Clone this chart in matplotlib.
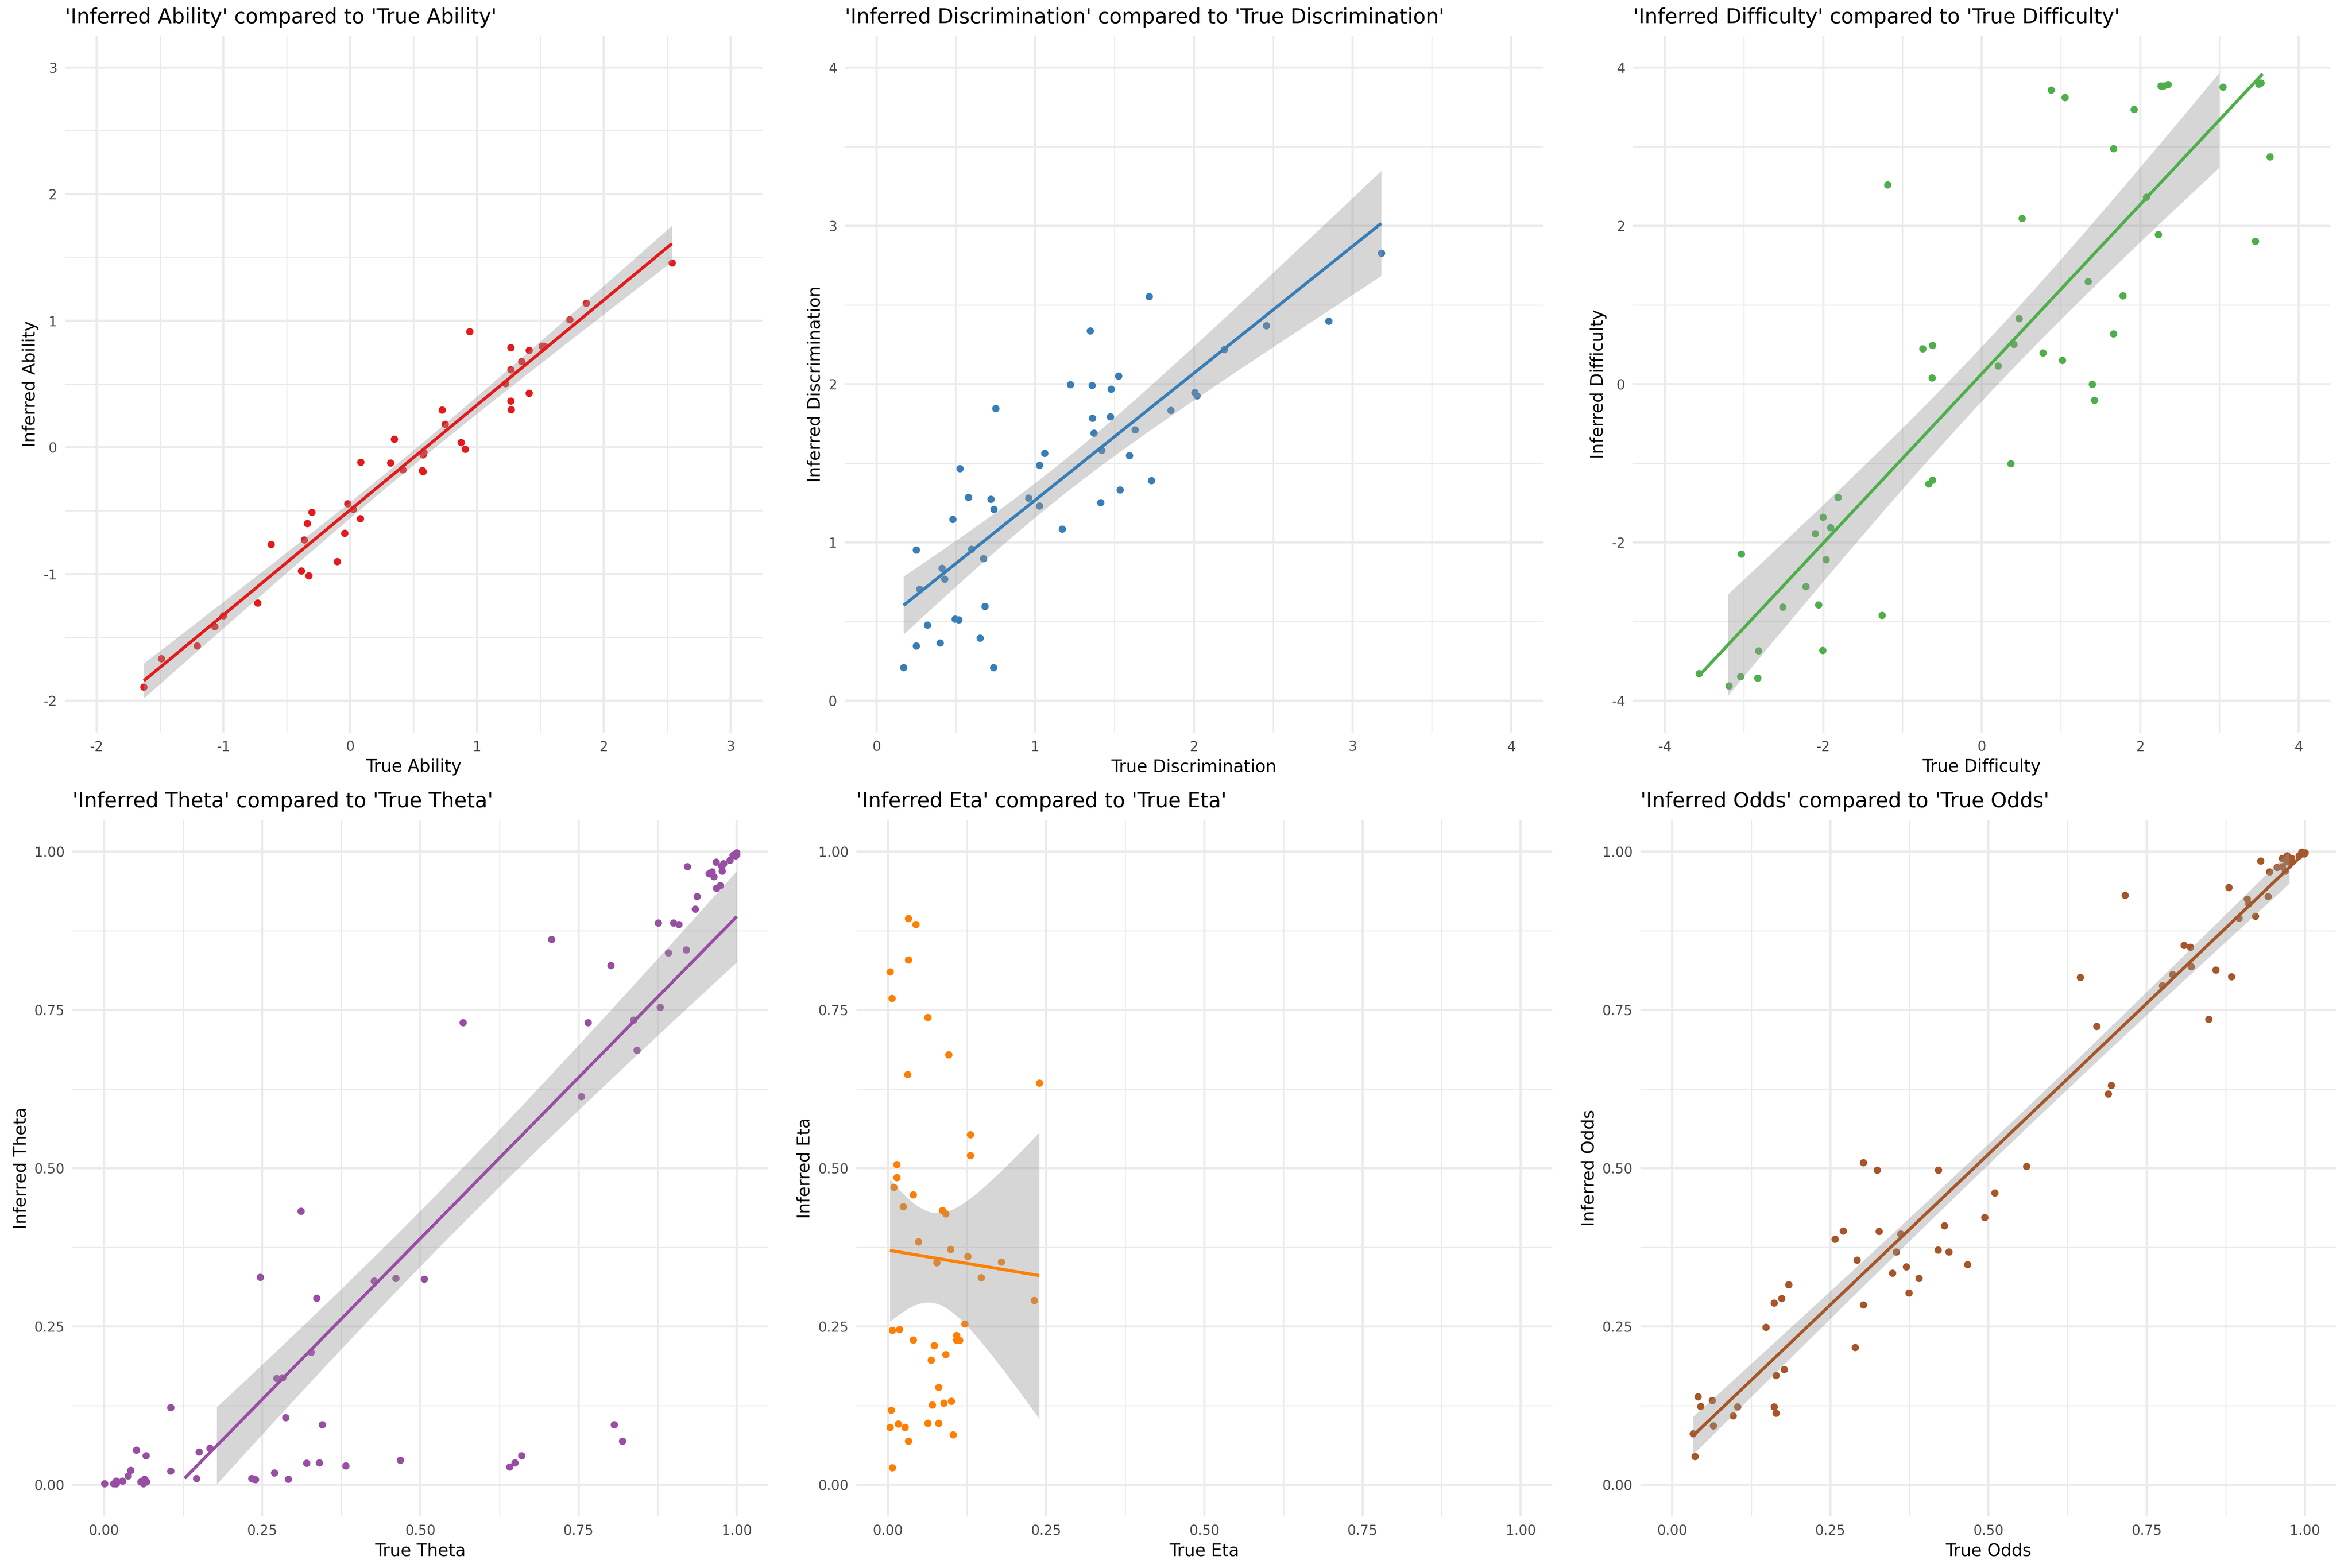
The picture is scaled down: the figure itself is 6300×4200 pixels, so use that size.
import numpy as np
import matplotlib.pyplot as plt
from matplotlib.ticker import MultipleLocator, FormatStrFormatter

plt.rcParams["axes.unicode_minus"] = False

# values
ability_true = [-1.627, -1.489, -1.206, -1.068, -1.001, -0.729, -0.623, -0.386, -0.327, -0.362,
                -0.339, -0.303, -0.102, -0.043, -0.020, 0.024, 0.079, 0.083, 0.319, 0.347,
                0.414, 0.567, 0.575, 0.575, 0.579, 0.725, 0.749, 0.875, 0.906, 0.942,
                1.225, 1.265, 1.265, 1.265, 1.269, 1.351, 1.411, 1.411, 1.513, 1.529,
                1.730, 1.860, 2.537]
ability_inferred = [-1.891, -1.667, -1.568, -1.414, -1.328, -1.229, -0.764, -0.973, -1.013, -0.729,
                    -0.599, -0.512, -0.902, -0.678, -0.445, -0.489, -0.563, -0.118, -0.122, 0.067,
                    -0.177, -0.181, -0.189, -0.059, -0.039, 0.296, 0.185, 0.039, -0.012, 0.914,
                    0.504, 0.788, 0.615, 0.366, 0.299, 0.678, 0.768, 0.429, 0.800, 0.800,
                    1.009, 1.139, 1.458]

discrimination_true = [0.170, 0.249, 0.249, 0.271, 0.321, 0.400, 0.413, 0.428, 0.479, 0.494,
                       0.517, 0.526, 0.580, 0.598, 0.652, 0.674, 0.683, 0.721, 0.737, 0.740,
                       0.750, 0.957, 1.027, 1.027, 1.058, 1.169, 1.222, 1.345, 1.357, 1.361,
                       1.370, 1.411, 1.420, 1.474, 1.477, 1.524, 1.534, 1.594, 1.628, 1.717,
                       1.732, 1.855, 2.006, 2.019, 2.192, 2.457, 2.850, 3.181]
discrimination_inferred = [0.211, 0.952, 0.347, 0.706, 0.479, 0.366, 0.838, 0.769, 1.147, 0.517,
                           0.511, 1.466, 1.286, 0.958, 0.397, 0.898, 0.596, 1.273, 0.211, 1.210,
                           1.847, 1.280, 1.488, 1.232, 1.563, 1.084, 1.998, 2.336, 1.992, 1.784,
                           1.690, 1.251, 1.582, 1.794, 1.970, 2.052, 1.333, 1.548, 1.712, 2.553,
                           1.390, 1.835, 1.948, 1.926, 2.219, 2.370, 2.399, 2.827]

difficulty_true = [-3.566, -3.188, -3.043, -3.036, -2.828, -2.816, -2.513, -2.217, -2.103, -2.059,
                   -2.009, -2.002, -1.964, -1.908, -1.813, -1.258, -1.188, -0.747, -0.671, -0.627,
                   -0.621, -0.621, 0.205, 0.369, 0.407, 0.470, 0.508, 0.773, 0.874, 1.019,
                   1.050, 1.340, 1.396, 1.422, 1.661, 1.661, 1.781, 1.920, 2.077, 2.229,
                   2.261, 2.292, 2.349, 3.042, 3.452, 3.497, 3.522, 3.636]
difficulty_inferred = [-3.654, -3.812, -3.692, -2.147, -3.711, -3.370, -2.815, -2.556, -1.888, -2.790,
                       -3.364, -1.680, -2.216, -1.813, -1.428, -2.922, 2.519, 0.445, -1.258, 0.079,
                       0.489, -1.214, 0.230, -1.005, 0.502, 0.830, 2.091, 0.394, 3.717, 0.299,
                       3.623, 1.296, -0.003, -0.205, 2.973, 0.634, 1.119, 3.471, 2.361, 1.888,
                       3.767, 3.767, 3.786, 3.755, 1.806, 3.792, 3.805, 2.872]

theta_true = [0.001, 0.015, 0.019, 0.019, 0.029, 0.038, 0.042, 0.051, 0.058, 0.062,
              0.064, 0.066, 0.067, 0.105, 0.105, 0.146, 0.150, 0.167, 0.233, 0.236,
              0.239, 0.247, 0.269, 0.273, 0.282, 0.287, 0.291, 0.311, 0.320, 0.327,
              0.336, 0.340, 0.345, 0.382, 0.427, 0.461, 0.468, 0.506, 0.567, 0.641,
              0.649, 0.660, 0.707, 0.754, 0.765, 0.801, 0.806, 0.819, 0.837, 0.842,
              0.876, 0.879, 0.892, 0.900, 0.908, 0.920, 0.922, 0.934, 0.937, 0.956,
              0.961, 0.964, 0.967, 0.968, 0.974, 0.976, 0.977, 0.979, 0.989, 0.994,
              0.998, 1.000, 1.000]
theta_inferred = [0.002, 0.002, 0.006, 0.002, 0.006, 0.014, 0.023, 0.055, 0.005, 0.002,
                  0.009, 0.046, 0.005, 0.122, 0.022, 0.010, 0.052, 0.058, 0.010, 0.009,
                  0.008, 0.328, 0.019, 0.168, 0.169, 0.106, 0.009, 0.432, 0.034, 0.209,
                  0.295, 0.035, 0.095, 0.030, 0.322, 0.326, 0.039, 0.325, 0.730, 0.028,
                  0.035, 0.046, 0.861, 0.613, 0.730, 0.820, 0.095, 0.069, 0.734, 0.686,
                  0.887, 0.754, 0.840, 0.887, 0.885, 0.845, 0.976, 0.909, 0.929, 0.965,
                  0.968, 0.960, 0.983, 0.942, 0.946, 0.977, 0.969, 0.981, 0.986, 0.994,
                  0.993, 0.998, 0.995]

eta_true = [0.003, 0.006, 0.003, 0.005, 0.007, 0.007, 0.009, 0.014, 0.014, 0.016,
            0.018, 0.024, 0.027, 0.031, 0.032, 0.032, 0.032, 0.040, 0.040, 0.044,
            0.048, 0.063, 0.063, 0.068, 0.070, 0.073, 0.077, 0.080, 0.080, 0.086,
            0.088, 0.091, 0.091, 0.096, 0.099, 0.100, 0.103, 0.108, 0.108, 0.113,
            0.121, 0.126, 0.130, 0.130, 0.147, 0.179, 0.231, 0.239]
eta_inferred = [0.810, 0.768, 0.091, 0.118, 0.027, 0.244, 0.470, 0.506, 0.485, 0.096,
                0.245, 0.439, 0.091, 0.648, 0.894, 0.829, 0.069, 0.229, 0.458, 0.885,
                0.384, 0.738, 0.097, 0.197, 0.126, 0.220, 0.351, 0.154, 0.097, 0.433,
                0.129, 0.428, 0.206, 0.679, 0.372, 0.132, 0.079, 0.236, 0.229, 0.228,
                0.254, 0.361, 0.553, 0.520, 0.327, 0.352, 0.291, 0.634]

odds_true = [0.033, 0.036, 0.041, 0.045, 0.063, 0.065, 0.096, 0.103, 0.148, 0.161,
             0.161, 0.164, 0.164, 0.173, 0.177, 0.184, 0.257, 0.270, 0.289, 0.292,
             0.302, 0.302, 0.324, 0.327, 0.348, 0.354, 0.361, 0.370, 0.374, 0.390,
             0.420, 0.421, 0.430, 0.437, 0.467, 0.494, 0.510, 0.560, 0.645, 0.671,
             0.689, 0.694, 0.716, 0.775, 0.791, 0.809, 0.819, 0.820, 0.848, 0.859,
             0.880, 0.884, 0.896, 0.909, 0.911, 0.922, 0.930, 0.942, 0.944, 0.956,
             0.964, 0.964, 0.968, 0.969, 0.971, 0.972, 0.974, 0.976, 0.979, 0.991,
             0.995, 0.999, 1.000]
odds_inferred = [0.081, 0.045, 0.139, 0.124, 0.133, 0.093, 0.109, 0.123, 0.249, 0.287,
                 0.123, 0.173, 0.113, 0.294, 0.182, 0.316, 0.388, 0.401, 0.217, 0.355,
                 0.509, 0.284, 0.497, 0.400, 0.334, 0.368, 0.396, 0.344, 0.303, 0.326,
                 0.371, 0.497, 0.409, 0.368, 0.348, 0.422, 0.461, 0.503, 0.801, 0.724,
                 0.617, 0.631, 0.931, 0.788, 0.806, 0.852, 0.849, 0.818, 0.735, 0.813,
                 0.943, 0.802, 0.895, 0.925, 0.917, 0.898, 0.985, 0.929, 0.968, 0.975,
                 0.989, 0.976, 0.989, 0.969, 0.984, 0.993, 0.987, 0.983, 0.989, 0.993,
                 0.999, 0.996, 0.998]

names = ["Ability", "Discrimination", "Difficulty", "Theta", "Eta", "Odds"]
colors = ["#E41A1C", "#377EB8", "#4DAF4A", "#984EA3", "#FF7F00", "#A65628"]
limits = [(-2, 3), (0, 4), (-4, 4), (0, 1), (0, 1), (0, 1)]
steps = [1, 1, 2, 0.25, 0.25, 0.25]


def t_quantile(df, z=1.959964):
    return z + (z ** 3 + z) / (4 * df) + (5 * z ** 5 + 16 * z ** 3 + 3 * z) / (96 * df ** 2)


def smooth_fit(x, y, n=80):
    # lm fit with 95% confidence band, like geom_smooth(method = "lm")
    x = np.asarray(x)
    y = np.asarray(y)
    slope, intercept = np.polyfit(x, y, 1)
    grid = np.linspace(x.min(), x.max(), n)
    fit = intercept + slope * grid
    df = len(x) - 2
    s = np.sqrt(np.sum((y - (intercept + slope * x)) ** 2) / df)
    se = s * np.sqrt(1 / len(x) + (grid - x.mean()) ** 2 / np.sum((x - x.mean()) ** 2))
    t = t_quantile(df)
    return grid, fit, fit - t * se, fit + t * se


def draw_panel(ax, x, y, color, name, lims, step):
    lo, hi = lims
    ax.scatter(x, y, s=22, color=color, linewidths=0, zorder=2)

    grid, fit, ymin, ymax = smooth_fit(x, y)
    # values outside the scale limits are dropped, as ggplot does
    band_ok = (ymin >= lo) & (ymax <= hi)
    ax.fill_between(grid, ymin, ymax, where=band_ok, color="#999999", alpha=0.4,
                    linewidth=0, zorder=3)
    line_ok = (fit >= lo) & (fit <= hi)
    ax.plot(grid[line_ok], fit[line_ok], color=color, lw=2.0, zorder=4,
            solid_capstyle="butt")

    pad = (hi - lo) * 0.05
    ax.set_xlim(lo - pad, hi + pad)
    ax.set_ylim(lo - pad, hi + pad)
    for axis in (ax.xaxis, ax.yaxis):
        axis.set_major_locator(MultipleLocator(step))
        axis.set_minor_locator(MultipleLocator(step / 2))
        axis.set_major_formatter(FormatStrFormatter("%.2f" if step < 1 else "%g"))
    ax.grid(which="major", color="#EBEBEB", lw=1.4)
    ax.grid(which="minor", color="#EBEBEB", lw=0.7)
    ax.set_axisbelow(True)
    ax.tick_params(which="both", length=0, labelsize=8.8, labelcolor="#4D4D4D", pad=5)
    for sp in ax.spines.values():
        sp.set_visible(False)

    ax.set_title(f"'Inferred {name}' compared to 'True {name}'", loc="left",
                 fontsize=13.2, pad=8)
    ax.set_xlabel(f"True {name}", fontsize=11, labelpad=3)
    ax.set_ylabel(f"Inferred {name}", fontsize=11, labelpad=3)


xs = [ability_true, discrimination_true, difficulty_true, theta_true, eta_true, odds_true]
ys = [ability_inferred, discrimination_inferred, difficulty_inferred,
      theta_inferred, eta_inferred, odds_inferred]

positions = [
    [0.0276, 0.5329, 0.2965, 0.4443],
    [0.3592, 0.5329, 0.2968, 0.4443],
    [0.6943, 0.5329, 0.2965, 0.4443],
    [0.0308, 0.0329, 0.2959, 0.4443],
    [0.3641, 0.0329, 0.2959, 0.4443],
    [0.6975, 0.0329, 0.2959, 0.4443],
]

fig = plt.figure(figsize=(21, 14), dpi=300)
for i in range(6):
    ax = fig.add_axes(positions[i])
    draw_panel(ax, xs[i], ys[i], colors[i], names[i], limits[i], steps[i])

fig.savefig("out.png", dpi=300, facecolor="white")
